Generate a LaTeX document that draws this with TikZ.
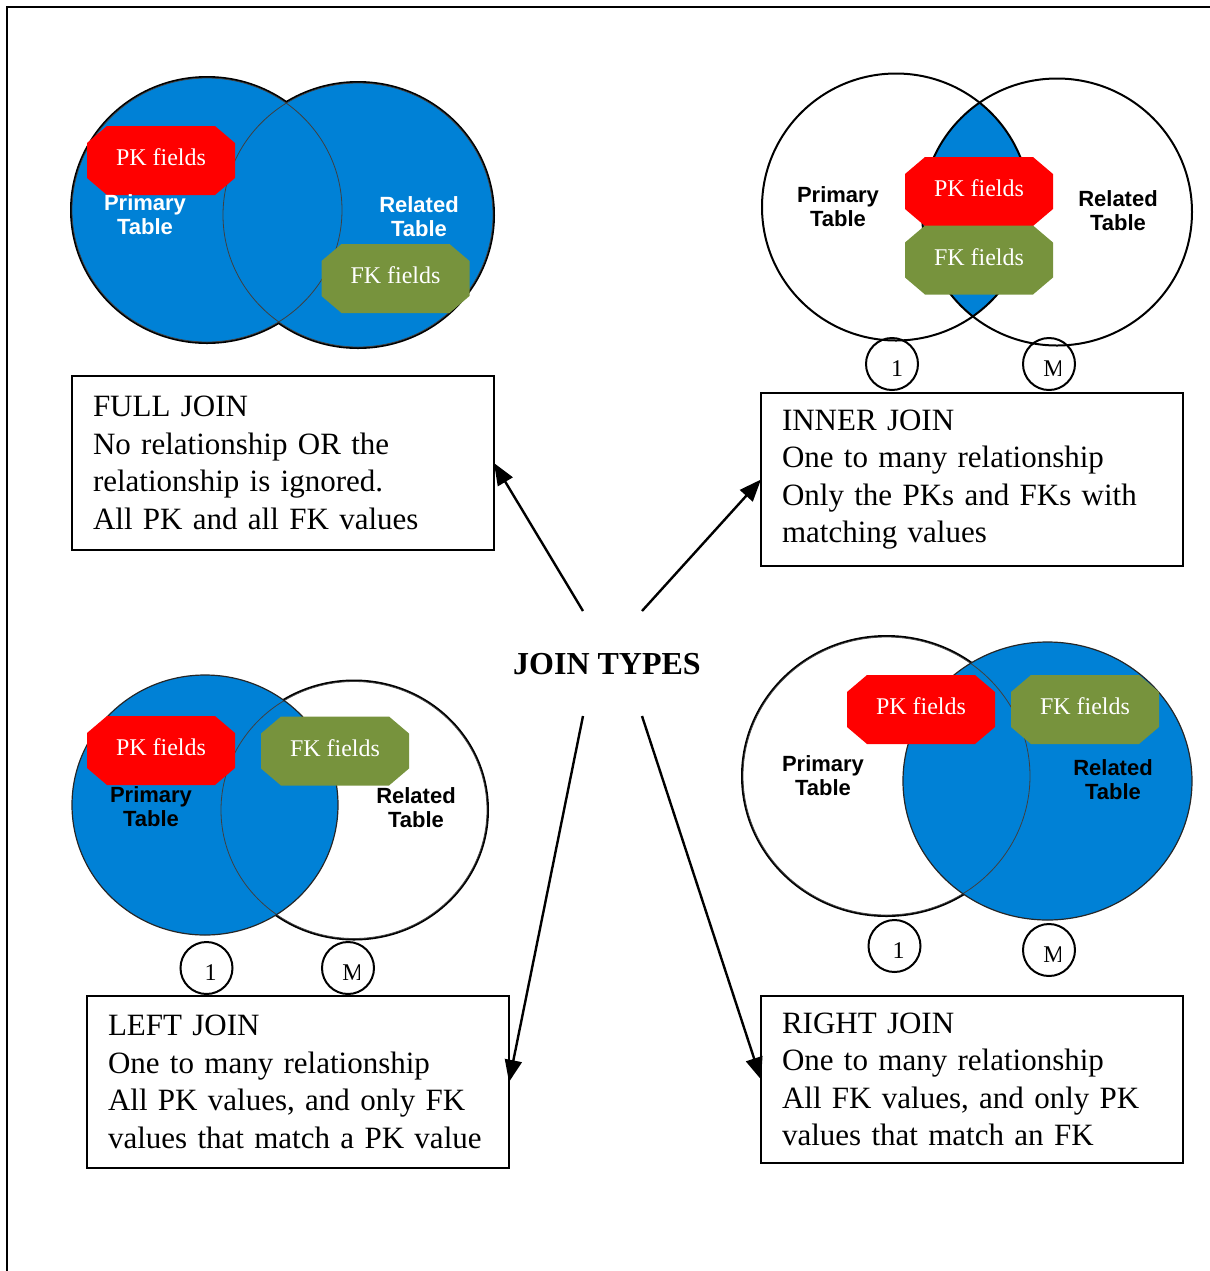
\documentclass[tikz,border=0pt]{standalone}
\usepackage{fontspec}
\setmainfont{Liberation Serif}
\newfontfamily\jsans{Liberation Sans}
\usetikzlibrary{arrows.meta,calc}

\definecolor{jblue}{RGB}{0,129,214}
\definecolor{pkred}{RGB}{255,0,0}
\definecolor{fkgreen}{RGB}{119,147,61}

\newcommand\jbfont{\fontsize{15.5pt}{18.75pt}\selectfont}
\newcommand\jffont{\fontsize{12pt}{14pt}\selectfont}
\newcommand\jtfont{\jsans\bfseries\fontsize{11pt}{12pt}\selectfont}
\newcommand\jcfont{\fontsize{12pt}{14pt}\selectfont}
\newcommand\jhfont{\bfseries\fontsize{16pt}{19pt}\selectfont}

\begin{document}
\begin{tikzpicture}[x=0.5pt,y=-0.5pt,
  jbox/.style={draw, line width=1.3pt, anchor=north west, outer sep=0pt,
    minimum width=211pt, text width=190pt, inner xsep=10.5pt, inner ysep=0pt,
    align=left, font=\jbfont},
  field/.style={minimum width=74pt, minimum height=34.5pt, inner sep=0pt,
    text height=8.2pt, text depth=3pt, text=white, font=\jffont,
    path picture={\fill[#1]
      ([xshift=10pt]path picture bounding box.north west) --
      ([xshift=-10pt]path picture bounding box.north east) --
      ([yshift=-8.5pt]path picture bounding box.north east) --
      ([yshift=8.5pt]path picture bounding box.south east) --
      ([xshift=-10pt]path picture bounding box.south east) --
      ([xshift=10pt]path picture bounding box.south west) --
      ([yshift=8.5pt]path picture bounding box.south west) --
      ([yshift=-8.5pt]path picture bounding box.north west) -- cycle;}},
  tlabel/.style={font=\jtfont, align=center, inner sep=0pt},
  card/.style={circle, draw, line width=1pt, minimum size=26pt, inner sep=0pt},
  cardnum/.style={font=\jcfont, inner sep=0pt},
  link/.style={line width=1.2pt, -{Triangle[length=11pt,width=8.5pt]}},
  rim/.style={line width=2pt},
  edge/.style={line width=1pt},
  seam/.style={line width=0.4pt, black!75},
  blueedge/.style={line width=0.6pt, black!85},
  % circles of the four diagrams
  fjA/.style={insert path={(207,210) ellipse [x radius=135, y radius=132]}},
  fjB/.style={insert path={(358,215) ellipse [x radius=135, y radius=132]}},
  ijA/.style={insert path={(896,207) ellipse [x radius=134, y radius=133.5]}},
  ijB/.style={insert path={(1057,212) ellipse [x radius=135, y radius=133.5]}},
  ljA/.style={insert path={(205,805) ellipse [x radius=133, y radius=130]}},
  ljB/.style={insert path={(354,810) ellipse [x radius=133, y radius=128.5]}},
  rjA/.style={insert path={(886.5,776) ellipse [x radius=143.5, y radius=139]}},
  rjB/.style={insert path={(1047.5,781) ellipse [x radius=144.5, y radius=139]}},
]
\useasboundingbox (0,0) rectangle (1210,1271);

% page frame
\draw[line width=1pt] (7,1290) -- (7,7) -- (1230,7);

% ---------- FULL JOIN: both tables filled ----------
\draw[rim, fjA]; \draw[rim, fjB];
\fill[jblue, fjA]; \fill[jblue, fjB];
\draw[seam, fjA]; \draw[seam, fjB];
\node[field=pkred] (fj-pk) at (161,160.5) {PK fields};
\node[field=fkgreen] (fj-fk) at (395.5,278.5) {FK fields};
\node[tlabel, text=white] (fj-pt) at (145,214.5) {Primary\\Table};
\node[tlabel, text=white] (fj-rt) at (419,216.5) {Related\\Table};

% ---------- INNER JOIN: only the overlap filled ----------
\begin{scope}
  \clip[ijA];
  \fill[jblue, ijB];
\end{scope}
\draw[edge, ijA]; \draw[edge, ijB];
\node[field=pkred] (ij-pk) at (979,191.5) {PK fields};
\node[field=fkgreen] (ij-fk) at (979,260) {FK fields};
\node[tlabel] (ij-pt) at (838,207) {Primary\\Table};
\node[tlabel] (ij-rt) at (1118,211) {Related\\Table};
\node[card] (ij-one) at (892,364) {};
\node[cardnum] (ij-one-t) at ($(ij-one.center)+(5,5)$) {1};
\node[card] (ij-many) at (1049,364) {};
\begin{scope}
  \clip ($(ij-many.center)+(-20,-20)$) rectangle ($(ij-many.center)+(11,20)$);
  \node[cardnum] (ij-many-t) at ($(ij-many.center)+(5,5)$) {M};
\end{scope}

% ---------- LEFT JOIN: primary table filled ----------
\draw[rim, ljB]; \fill[white, ljB];
\fill[jblue, ljA];
\draw[seam, ljB];
\draw[blueedge, ljA];
\node[field=pkred] (lj-pk) at (161,750.5) {PK fields};
\node[field=fkgreen] (lj-fk) at (335,751) {FK fields};
\node[tlabel] (lj-pt) at (151,807) {Primary\\Table};
\node[tlabel] (lj-rt) at (416,808) {Related\\Table};
\node[card] (lj-one) at (206.5,968) {};
\node[cardnum] (lj-one-t) at ($(lj-one.center)+(4,5)$) {1};
\node[card] (lj-many) at (348,968) {};
\begin{scope}
  \clip ($(lj-many.center)+(-20,-20)$) rectangle ($(lj-many.center)+(11,20)$);
  \node[cardnum] (lj-many-t) at ($(lj-many.center)+(5,5)$) {M};
\end{scope}

% ---------- RIGHT JOIN: related table filled ----------
\draw[rim, rjA]; \fill[white, rjA];
\fill[jblue, rjB];
\draw[seam, rjA];
\draw[blueedge, rjB];
\node[field=pkred] (rj-pk) at (921,709.5) {PK fields};
\node[field=fkgreen] (rj-fk) at (1085,709.5) {FK fields};
\node[tlabel] (rj-pt) at (823,775.5) {Primary\\Table};
\node[tlabel] (rj-rt) at (1113,779.5) {Related\\Table};
\node[card] (rj-one) at (894.5,946) {};
\node[cardnum] (rj-one-t) at ($(rj-one.center)+(4,5)$) {1};
\node[card] (rj-many) at (1049,950) {};
\begin{scope}
  \clip ($(rj-many.center)+(-20,-20)$) rectangle ($(rj-many.center)+(11,20)$);
  \node[cardnum] (rj-many-t) at ($(rj-many.center)+(5,5)$) {M};
\end{scope}

% ---------- description boxes ----------
\node[jbox, minimum height=87pt] (fullbox) at (72,376)
  {\mbox{FULL JOIN}\\\mbox{No relationship OR the}\\\mbox{relationship is ignored.}\\\mbox{All PK and all FK values}};
\node[jbox, minimum height=86.5pt] (innerbox) at (761,393)
  {\mbox{INNER JOIN}\\\mbox{One to many relationship}\\\mbox{Only the PKs and FKs with}\\\mbox{matching values}};
\node[jbox, minimum height=86pt] (leftbox) at (87,996)
  {\mbox{LEFT JOIN}\\\mbox{One to many relationship}\\\mbox{All PK values, and only FK}\\\mbox{values that match a PK value}};
\node[jbox, minimum height=83.5pt] (rightbox) at (761,996)
  {\mbox{RIGHT JOIN}\\\mbox{One to many relationship}\\\mbox{All FK values, and only PK}\\\mbox{values that match an FK}};

% ---------- centre title and arrows ----------
\node[font=\jhfont, inner sep=0pt] (jt) at (607,664) {JOIN TYPES};
\coordinate (jt-nw) at (583,611);
\coordinate (jt-ne) at (642,611);
\coordinate (jt-sw) at (583,716);
\coordinate (jt-se) at (642,716);
\draw[link] (jt-nw) -- (fullbox.east);
\draw[link] (jt-ne) -- (innerbox.west);
\draw[link] (jt-sw) -- (leftbox.east);
\draw[link] (jt-se) -- (rightbox.west);
\end{tikzpicture}
\end{document}
